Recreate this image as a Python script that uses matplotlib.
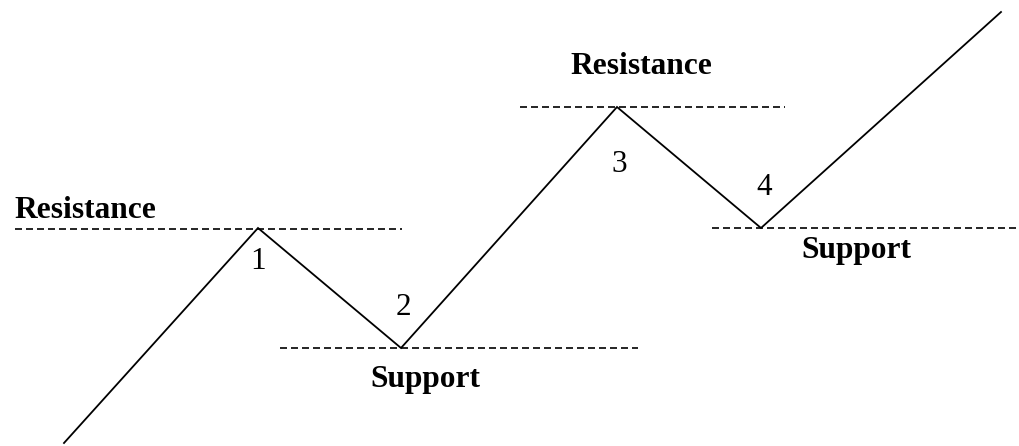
import matplotlib.pyplot as plt

# price path (in picture units: x right, y down)
path_x = [64, 258, 401, 617, 761, 1001]
path_y = [443, 228, 348, 107, 228, 12]

# dashed support / resistance levels: (x start, x end, y)
level_x0 = [15, 280, 520, 712]
level_x1 = [402, 638, 785, 1017]
level_y = [229, 348, 107, 228]

# words and numbers
word_text = ["Resistance", "Support", "Resistance", "Support"]
word_x = [85, 425, 641, 856]
word_y = [218, 387, 74, 258]
num_text = ["1", "2", "3", "4"]
num_x = [258, 403, 619, 764]
num_y = [269, 315, 172, 195]

plt.rcParams['font.family'] = ['Liberation Serif', 'DejaVu Serif']

fig = plt.figure(figsize=(10.2, 4.46), dpi=100)
ax = fig.add_axes([0, 0, 1, 1])
ax.set_xlim(0, 1020)
ax.set_ylim(446, 0)
ax.axis('off')

ax.plot(path_x, path_y, color='black', lw=1.3, solid_joinstyle='miter')

for x0, x1, y in zip(level_x0, level_x1, level_y):
    ax.plot([x0, x1], [y, y], color='black', lw=1.2, dashes=(4.2, 2.4))

for t, x, y in zip(word_text, word_x, word_y):
    ax.text(x, y, t, ha='center', va='baseline', fontsize=22.6, fontweight='bold')

for t, x, y in zip(num_text, num_x, num_y):
    ax.text(x, y, t, ha='center', va='baseline', fontsize=22.5)

fig.savefig("out.png", dpi=100)
